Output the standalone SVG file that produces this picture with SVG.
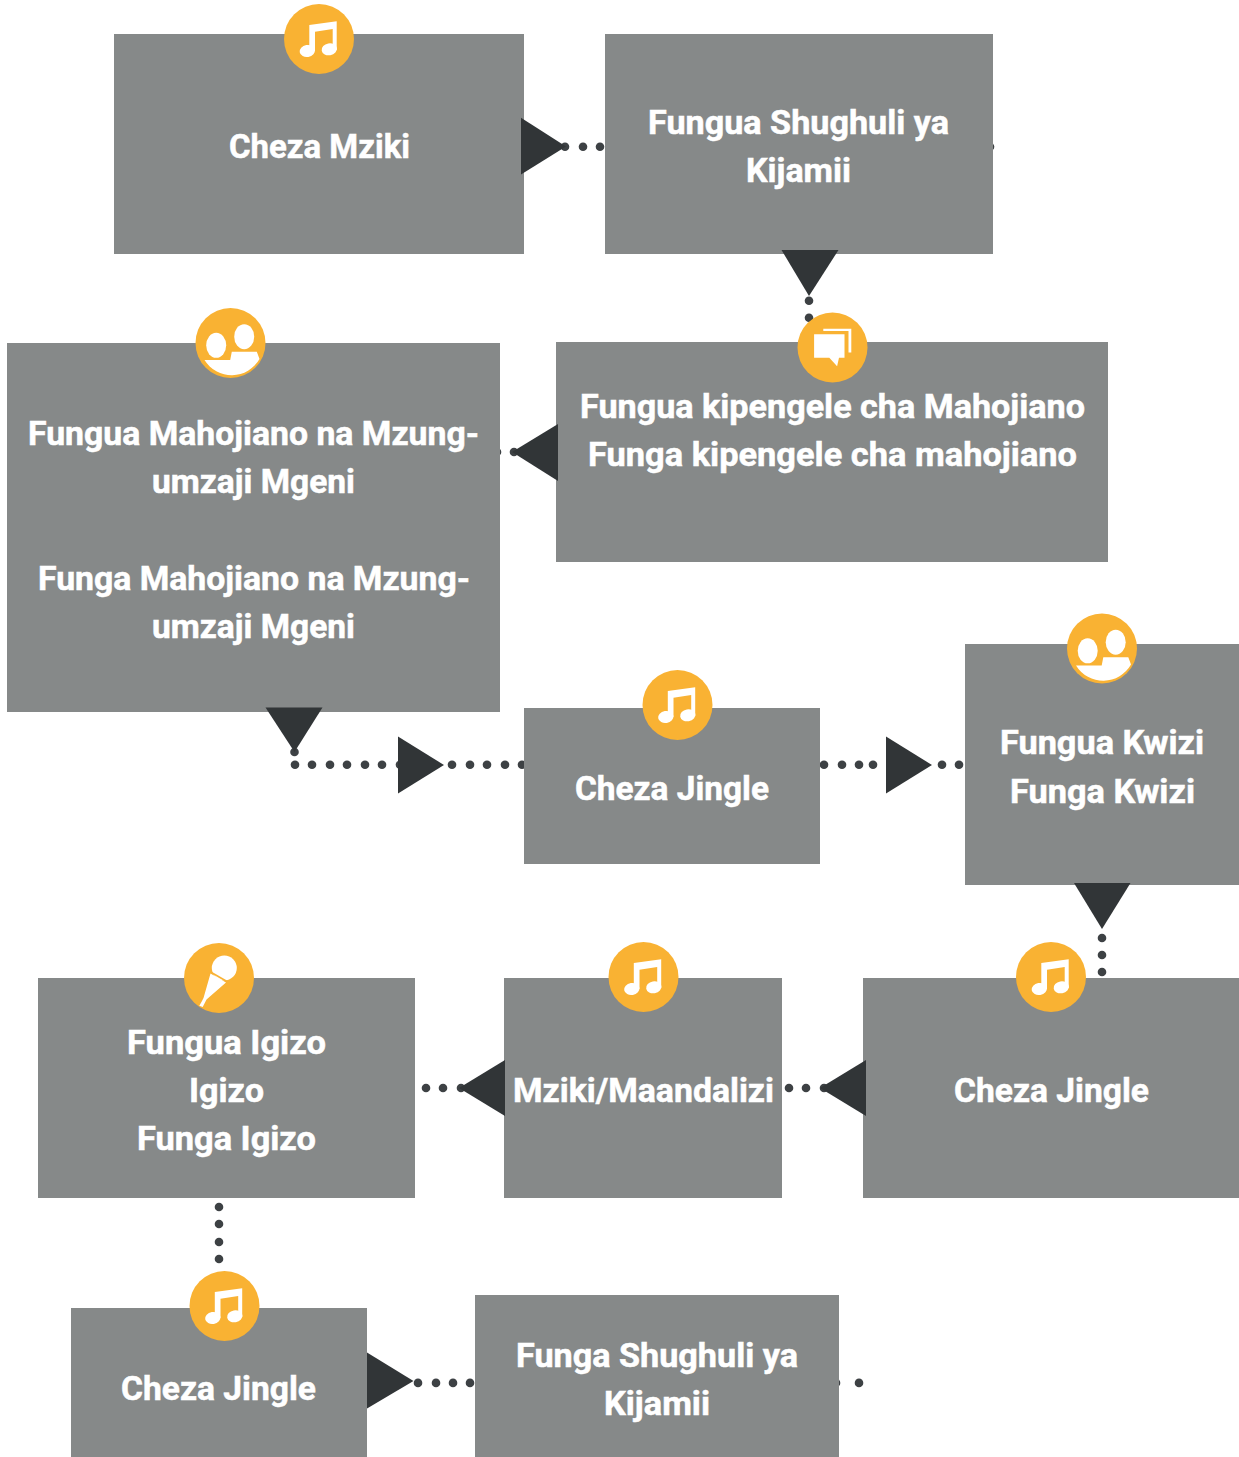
<svg xmlns="http://www.w3.org/2000/svg" width="1239" height="1457" viewBox="0 0 1239 1457">
<style>
.box{fill:#868989}
.badge{fill:#f9b233}
.ico{fill:#fff}
.dot{fill:#3d4144}
.head{fill:#313537}
text{font-family:"Roboto","Liberation Sans",sans-serif;font-weight:700;font-size:33px;fill:#fff;stroke:#fff;stroke-width:.5px}
</style>
<defs>
<g id="music">
<circle class="badge" r="35"/>
<path class="ico" d="M-9.7 -14L17.7 -17.7V11H13.7V-10L-4 -7.3V12H-9.7Z"/>
<ellipse class="ico" cx="-11.7" cy="12" rx="7.7" ry="6" transform="rotate(-10 -11.7 12)"/>
<ellipse class="ico" cx="10.3" cy="10.3" rx="7.7" ry="6" transform="rotate(-10 10.3 10.3)"/>
</g>
<g id="people">
<circle class="badge" r="35"/>
<ellipse class="ico" cx="-14.3" cy="2.3" rx="10" ry="12.5"/>
<ellipse class="ico" cx="13.7" cy="-6.3" rx="10" ry="12.5"/>
<path class="ico" d="M-26 17H-.3L1.3 8.7H26.3L29 16A32 32 0 0 1 -26 17Z"/>
</g>
<g id="chat">
<circle class="badge" r="35"/>
<path class="ico" d="M-9.2 -18.7H18.8V5H16V-16.5H-9.2Z"/>
<path class="ico" d="M-18.4 -13.3H12V10.3H6.5L4.6 18.7L-3.2 10.3H-18.4Z"/>
</g>
<g id="mic">
<circle class="badge" r="35"/>
<circle class="ico" cx="5.3" cy="-10" r="12.5"/>
<path class="ico" d="M-8.5 -4.5L7 4.5L-12.5 21.5L-14 24.5L-16.3 29L-19.7 27.7L-17 23L-15.5 20Z"/>
<path d="M-8.5 -6L8 3.5" stroke="#f9b233" stroke-width="1.6" fill="none"/>
</g>
</defs>
<g id="connectors">
<g id="dots">
<circle class="dot" r="4.3" cx="565" cy="146.7"/><circle class="dot" r="4.3" cx="583" cy="146.7"/><circle class="dot" r="4.3" cx="600" cy="146.7"/><circle class="dot" r="4.3" cx="990" cy="146.7"/>
<circle class="dot" r="4.3" cx="809" cy="300.7"/><circle class="dot" r="4.3" cx="809" cy="317.7"/>
<circle class="dot" r="4.3" cx="514" cy="452"/><circle class="dot" r="4.3" cx="497" cy="452"/>
<circle class="dot" r="4.3" cx="294.5" cy="752"/>
<circle class="dot" r="4.3" cx="295" cy="764.7"/><circle class="dot" r="4.3" cx="312" cy="764.7"/><circle class="dot" r="4.3" cx="330" cy="764.7"/><circle class="dot" r="4.3" cx="347" cy="764.7"/><circle class="dot" r="4.3" cx="365" cy="764.7"/><circle class="dot" r="4.3" cx="382" cy="764.7"/><circle class="dot" r="4.3" cx="400" cy="764.7"/>
<circle class="dot" r="4.3" cx="452" cy="764.7"/><circle class="dot" r="4.3" cx="470" cy="764.7"/><circle class="dot" r="4.3" cx="487" cy="764.7"/><circle class="dot" r="4.3" cx="505" cy="764.7"/><circle class="dot" r="4.3" cx="522" cy="764.7"/>
<circle class="dot" r="4.3" cx="824" cy="764.7"/><circle class="dot" r="4.3" cx="842" cy="764.7"/><circle class="dot" r="4.3" cx="859" cy="764.7"/><circle class="dot" r="4.3" cx="873" cy="764.7"/>
<circle class="dot" r="4.3" cx="942" cy="764.7"/><circle class="dot" r="4.3" cx="959" cy="764.7"/>
<circle class="dot" r="4.3" cx="1102" cy="938"/><circle class="dot" r="4.3" cx="1102" cy="955"/><circle class="dot" r="4.3" cx="1102" cy="972"/>
<circle class="dot" r="4.3" cx="789" cy="1088"/><circle class="dot" r="4.3" cx="806" cy="1088"/><circle class="dot" r="4.3" cx="824" cy="1088"/>
<circle class="dot" r="4.3" cx="426" cy="1088"/><circle class="dot" r="4.3" cx="443" cy="1088"/><circle class="dot" r="4.3" cx="461" cy="1088"/>
<circle class="dot" r="4.3" cx="219" cy="1207"/><circle class="dot" r="4.3" cx="219" cy="1224"/><circle class="dot" r="4.3" cx="219" cy="1242"/><circle class="dot" r="4.3" cx="219" cy="1259"/>
<circle class="dot" r="4.3" cx="418" cy="1382.9"/><circle class="dot" r="4.3" cx="436" cy="1382.9"/><circle class="dot" r="4.3" cx="453" cy="1382.9"/><circle class="dot" r="4.3" cx="470" cy="1382.9"/>
<circle class="dot" r="4.3" cx="836" cy="1382.9"/><circle class="dot" r="4.3" cx="859" cy="1382.9"/>
</g>
</g>
<g id="n1"><rect class="box" x="114" y="34" width="410" height="220"/><use href="#music" x="319" y="39"/><text x="229" y="158" textLength="181" lengthAdjust="spacingAndGlyphs">Cheza Mziki</text></g>
<g id="n2"><rect class="box" x="605" y="34" width="388" height="220"/><text x="648" y="134" textLength="301" lengthAdjust="spacingAndGlyphs">Fungua Shughuli ya</text><text x="746" y="182" textLength="105" lengthAdjust="spacingAndGlyphs">Kijamii</text></g>
<g id="n3"><rect class="box" x="556" y="342" width="552" height="220"/><use href="#chat" x="832.5" y="347.5"/><text x="580" y="418" textLength="505" lengthAdjust="spacingAndGlyphs">Fungua kipengele cha Mahojiano</text><text x="588" y="466" textLength="489" lengthAdjust="spacingAndGlyphs">Funga kipengele cha mahojiano</text></g>
<g id="n4"><rect class="box" x="7" y="343" width="493" height="369"/><use href="#people" x="230.5" y="343"/><text x="28" y="445" textLength="451" lengthAdjust="spacingAndGlyphs">Fungua Mahojiano na Mzung-</text><text x="152" y="493" textLength="203" lengthAdjust="spacingAndGlyphs">umzaji Mgeni</text><text x="38" y="590" textLength="432" lengthAdjust="spacingAndGlyphs">Funga Mahojiano na Mzung-</text><text x="152" y="638" textLength="203" lengthAdjust="spacingAndGlyphs">umzaji Mgeni</text></g>
<g id="n5"><rect class="box" x="524" y="708" width="296" height="156"/><use href="#music" x="677.5" y="705"/><text x="575" y="800" textLength="194" lengthAdjust="spacingAndGlyphs">Cheza Jingle</text></g>
<g id="n6"><rect class="box" x="965" y="644" width="274" height="241"/><use href="#people" x="1102" y="648.5"/><text x="1000" y="754" textLength="204" lengthAdjust="spacingAndGlyphs">Fungua Kwizi</text><text x="1010" y="803" textLength="185" lengthAdjust="spacingAndGlyphs">Funga Kwizi</text></g>
<g id="n7"><rect class="box" x="863" y="978" width="376" height="220"/><use href="#music" x="1051" y="977"/><text x="954" y="1102" textLength="195" lengthAdjust="spacingAndGlyphs">Cheza Jingle</text></g>
<g id="n8"><rect class="box" x="504" y="978" width="278" height="220"/><use href="#music" x="643.5" y="977"/><text x="513" y="1102" textLength="261" lengthAdjust="spacingAndGlyphs">Mziki/Maandalizi</text></g>
<g id="n9"><rect class="box" x="38" y="978" width="377" height="220"/><use href="#mic" x="219" y="978"/><text x="127" y="1054" textLength="199" lengthAdjust="spacingAndGlyphs">Fungua Igizo</text><text x="189" y="1102" textLength="75" lengthAdjust="spacingAndGlyphs">Igizo</text><text x="137" y="1150" textLength="179" lengthAdjust="spacingAndGlyphs">Funga Igizo</text></g>
<g id="n10"><rect class="box" x="71" y="1308" width="296" height="149"/><use href="#music" x="224.5" y="1306"/><text x="121" y="1400" textLength="195" lengthAdjust="spacingAndGlyphs">Cheza Jingle</text></g>
<g id="n11"><rect class="box" x="475" y="1295" width="364" height="162"/><text x="516" y="1367" textLength="282" lengthAdjust="spacingAndGlyphs">Funga Shughuli ya</text><text x="604" y="1415" textLength="106" lengthAdjust="spacingAndGlyphs">Kijamii</text></g>
<g id="arrowheads">
<polygon class="head" points="521,117.7 521,174.5 566,146.5"/>
<polygon class="head" points="781.5,250 838.5,250 809,296"/>
<polygon class="head" points="558,424 558,481 512,452"/>
<polygon class="head" points="265.5,707.5 322.5,707.5 294.5,752"/>
<polygon class="head" points="398,736.5 398,793.5 444,765"/>
<polygon class="head" points="886,736.5 886,793.5 932,765"/>
<polygon class="head" points="1074,883 1130.5,883 1102,929"/>
<polygon class="head" points="866,1060 866,1116 820,1088"/>
<polygon class="head" points="505,1060 505,1116 459,1088"/>
<polygon class="head" points="367,1352.5 367,1408.5 413.5,1381"/>
</g>
</svg>
